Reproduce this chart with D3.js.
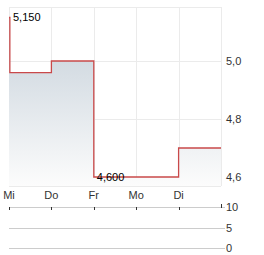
<!DOCTYPE html>
<html>
<head>
<meta charset="utf-8">
<script src="https://cdn.jsdelivr.net/npm/d3@7"></script>
<style>
  body { margin: 0; background: #fff; }
  svg { display: block; font-family: "Liberation Sans", Arial, sans-serif; }
</style>
</head>
<body>
<div id="chart"></div>
<script>
"use strict"

// day labels on the x axis, one per trading day
var days = ["Mi", "Do", "Fr", "Mo", "Di"];

// price path: time as fractional day index, value in EUR
var priceT = [0, 0.02, 1, 2, 3, 4, 5];
var priceV = [5.15, 4.96, 5.0, 4.6, 4.6, 4.7, 4.7];

var priceTicks = [4.6, 4.8, 5.0];
var volumeTicks = [0, 5, 10];

// min / max annotations (index into price arrays)
var maxIdx = 0;
var minIdx = 3;

var width = 264;
var height = 255;
var plot = { left: 9, right: 221, top: 7, bottom: 186 };
var vol = { top: 207, bottom: 248 };

var fmt = function(v, d) { return v.toFixed(d).replace(".", ","); };

var data = priceT.map(function(t, i) { return { t: t, v: priceV[i] }; });

var x = d3.scaleLinear().domain([0, days.length]).range([plot.left, plot.right]);
var y = d3.scaleLinear().domain([4.569, 5.1862]).range([plot.bottom, plot.top]);
var yVol = d3.scaleLinear().domain([0, 10]).range([vol.bottom, vol.top]);

var svg = d3.select("#chart").append("svg")
    .attr("width", width)
    .attr("height", height);

var grad = svg.append("defs").append("linearGradient")
    .attr("id", "fill")
    .attr("gradientUnits", "userSpaceOnUse")
    .attr("x1", 0).attr("x2", 0)
    .attr("y1", y(5.0)).attr("y2", plot.bottom);
grad.append("stop").attr("offset", 0).attr("stop-color", "#d3dbe2");
grad.append("stop").attr("offset", 1).attr("stop-color", "#fcfcfc");

// grid
var grid = svg.append("g").attr("stroke", "#ebebeb").attr("stroke-width", 1);
grid.selectAll("line.v")
    .data(d3.range(days.length + 1))
  .enter().append("line")
    .attr("x1", function(d) { return Math.round(x(d)) + 0.5; })
    .attr("x2", function(d) { return Math.round(x(d)) + 0.5; })
    .attr("y1", plot.top)
    .attr("y2", plot.bottom);
grid.selectAll("line.h")
    .data([plot.top, plot.bottom].concat(priceTicks.map(y)))
  .enter().append("line")
    .attr("x1", plot.left)
    .attr("x2", plot.right)
    .attr("y1", function(d) { return Math.round(d) + 0.5; })
    .attr("y2", function(d) { return Math.round(d) + 0.5; });

// area + line
var area = d3.area()
    .curve(d3.curveStepAfter)
    .x(function(d) { return x(d.t); })
    .y0(plot.bottom)
    .y1(function(d) { return y(d.v); });
var line = d3.line()
    .curve(d3.curveStepAfter)
    .x(function(d) { return x(d.t); })
    .y(function(d) { return y(d.v); });

svg.append("path").datum(data)
    .attr("d", area)
    .attr("fill", "url(#fill)");
svg.append("path").datum(data)
    .attr("d", line)
    .attr("fill", "none")
    .attr("stroke", "#c9494a")
    .attr("stroke-width", 1.3);

// min/max labels
svg.append("text")
    .attr("x", x(priceT[maxIdx]) + 4)
    .attr("y", y(priceV[maxIdx]) + 4)
    .attr("font-size", 11)
    .attr("fill", "#000")
    .text(fmt(priceV[maxIdx], 3));
svg.append("text")
    .attr("x", x(priceT[minIdx]) + 3)
    .attr("y", y(priceV[minIdx]) + 4)
    .attr("font-size", 11)
    .attr("fill", "#000")
    .text(fmt(priceV[minIdx], 3));

// right price axis labels
svg.append("g").selectAll("text")
    .data(priceTicks)
  .enter().append("text")
    .attr("x", plot.right + 5)
    .attr("y", function(d) { return y(d) + 4; })
    .attr("font-size", 11)
    .attr("fill", "#333")
    .text(function(d) { return fmt(d, 1); });

// day labels
svg.append("g").selectAll("text")
    .data(days)
  .enter().append("text")
    .attr("x", function(d, i) { return x(i); })
    .attr("y", 199)
    .attr("text-anchor", "middle")
    .attr("font-size", 11)
    .attr("fill", "#333")
    .text(function(d) { return d; });

// volume panel
var vg = svg.append("g");
vg.selectAll("line.g")
    .data(volumeTicks)
  .enter().append("line")
    .attr("x1", plot.left)
    .attr("x2", plot.right + 4)
    .attr("y1", function(d) { return Math.round(yVol(d)) + 0.5; })
    .attr("y2", function(d) { return Math.round(yVol(d)) + 0.5; })
    .attr("stroke", "#cccccc");
vg.selectAll("line.t")
    .data(d3.range(days.length))
  .enter().append("line")
    .attr("x1", function(d) { return Math.round(x(d)) + 0.5; })
    .attr("x2", function(d) { return Math.round(x(d)) + 0.5; })
    .attr("y1", vol.top)
    .attr("y2", vol.top + 3)
    .attr("stroke", "#333");
vg.append("line")
    .attr("x1", plot.right + 0.5).attr("x2", plot.right + 0.5)
    .attr("y1", vol.top - 3).attr("y2", vol.top + 1)
    .attr("stroke", "#333");
vg.selectAll("text")
    .data(volumeTicks)
  .enter().append("text")
    .attr("x", plot.right + 5)
    .attr("y", function(d) { return yVol(d) + 4; })
    .attr("font-size", 11)
    .attr("fill", "#333")
    .text(function(d) { return d; });
</script>
</body>
</html>
